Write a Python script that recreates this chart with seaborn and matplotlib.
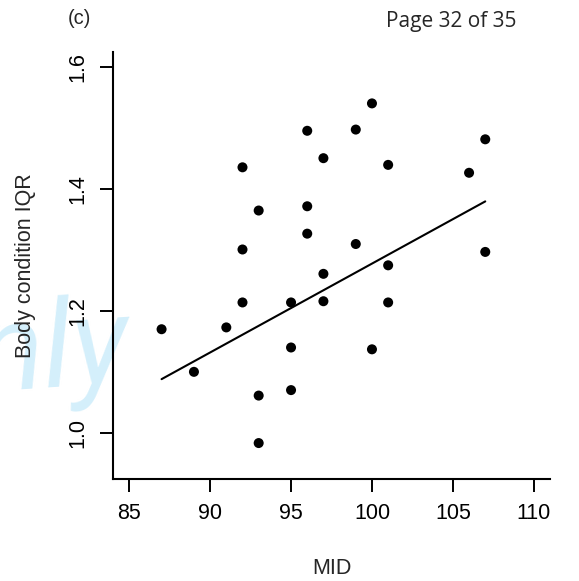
import matplotlib
matplotlib.use("Agg")
import matplotlib.pyplot as plt
import seaborn as sns
import pandas as pd

# Mid-domain values and body condition IQR per site
mid = [100, 96, 99, 107, 92, 97, 101, 106, 93, 96, 96, 92, 99, 107,
       101, 97, 92, 95, 97, 101, 87, 91, 95, 100, 89, 93, 95, 93]
body_iqr = [1.541, 1.496, 1.498, 1.482, 1.436, 1.451, 1.440, 1.427, 1.365,
            1.372, 1.327, 1.301, 1.310, 1.297, 1.275, 1.261, 1.214, 1.214,
            1.216, 1.214, 1.170, 1.173, 1.140, 1.137, 1.100, 1.061, 1.070,
            0.983]

# Fitted trend
fit_mid = [87, 107]
fit_iqr = [1.088, 1.380]

x_ticks = [85, 90, 95, 100, 105, 110]
y_ticks = [1.0, 1.2, 1.4, 1.6]
y_tick_labels = ["1.0", "1.2", "1.4", "1.6"]

df = pd.DataFrame({"MID": mid, "IQR": body_iqr})
fit = pd.DataFrame({"MID": fit_mid, "IQR": fit_iqr})

sns.set_style("ticks")
plt.rcParams["font.family"] = ["Liberation Sans", "DejaVu Sans"]

W, H = 579, 581
fig = plt.figure(figsize=(W / 100, H / 100), dpi=100)
ax = fig.add_axes([0.1952, 0.1756, 0.7547, 0.7355])

# light watermark behind everything
fig.text(-26 / W, 1 - 392 / H, "nly", color="#d4effb", fontsize=88,
         style="italic", weight="normal", family=["Roboto", "DejaVu Sans"],
         ha="left", va="baseline", rotation=4, zorder=-1)
ax.set_facecolor("none")

sns.scatterplot(data=df, x="MID", y="IQR", ax=ax, color="black", s=52,
                edgecolor="none", linewidth=0, zorder=3)
sns.lineplot(data=fit, x="MID", y="IQR", ax=ax, color="black",
             linewidth=1.5, zorder=2)

ax.set_xlim(84, 111)
ax.set_ylim(0.924, 1.626)
ax.set_xticks(x_ticks)
ax.set_yticks(y_ticks)
ax.set_yticklabels(y_tick_labels, rotation=90, va="center")
ax.tick_params(axis="both", length=9.5, width=1.4, labelsize=15.5, pad=8,
               colors="black")
for side in ("top", "right"):
    ax.spines[side].set_visible(False)
for side in ("left", "bottom"):
    ax.spines[side].set_linewidth(1.5)
    ax.spines[side].set_color("black")

ax.set_xlabel("MID", fontsize=15.5, labelpad=24)
ax.set_ylabel("Body condition IQR", fontsize=15.5, labelpad=23)

fig.text(79 / W, 1 - 18 / H, "(c)", fontsize=14.5, ha="center", va="center")
fig.text(517 / W, 1 - 27 / H, "Page 32 of 35", fontsize=15, ha="right",
         va="baseline", family=["Open Sans", "DejaVu Sans"])

fig.savefig("out.png", dpi=100)
